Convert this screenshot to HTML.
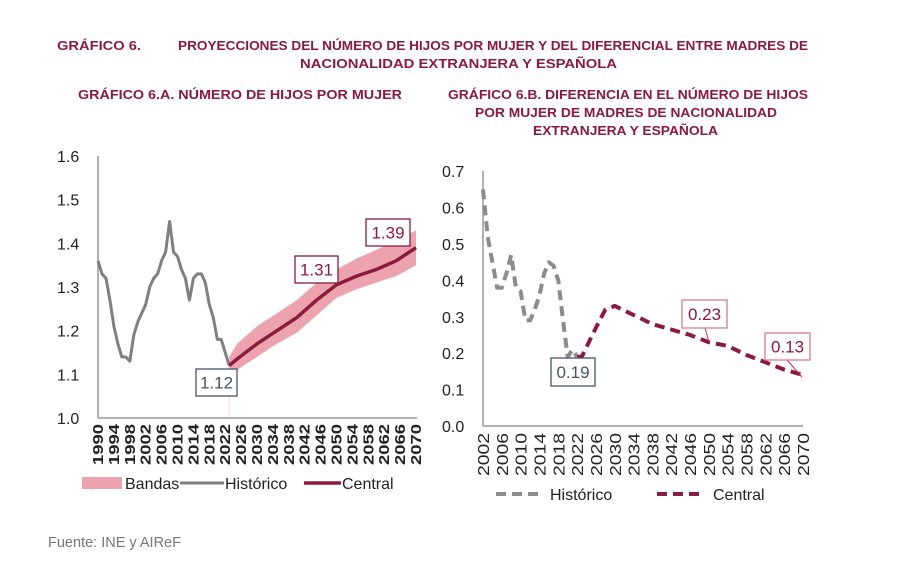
<!DOCTYPE html>
<html><head><meta charset="utf-8"><style>
html,body{margin:0;padding:0;background:#fff;}
svg{display:block;font-family:"Liberation Sans Narrow","Liberation Sans",sans-serif;}
</style></head><body>
<svg id="c" width="916" height="569" viewBox="0 0 916 569" xmlns="http://www.w3.org/2000/svg">
<g fill="#8b1a3f" font-weight="bold" font-size="12.5">
<text x="57" y="50" textLength="84" lengthAdjust="spacingAndGlyphs">GRÁFICO 6.</text>
<text x="178" y="50" textLength="630" lengthAdjust="spacingAndGlyphs">PROYECCIONES DEL NÚMERO DE HIJOS POR MUJER Y DEL DIFERENCIAL ENTRE MADRES DE</text>
<text x="300" y="68" textLength="317" lengthAdjust="spacingAndGlyphs">NACIONALIDAD EXTRANJERA Y ESPAÑOLA</text>
<text x="78" y="99" textLength="324" lengthAdjust="spacingAndGlyphs">GRÁFICO 6.A. NÚMERO DE HIJOS POR MUJER</text>
<text x="448" y="99" textLength="360" lengthAdjust="spacingAndGlyphs">GRÁFICO 6.B. DIFERENCIA EN EL NÚMERO DE HIJOS</text>
<text x="475" y="117" textLength="302" lengthAdjust="spacingAndGlyphs">POR MUJER DE MADRES DE NACIONALIDAD</text>
<text x="533" y="135" textLength="185" lengthAdjust="spacingAndGlyphs">EXTRANJERA Y ESPAÑOLA</text>
</g>
<text x="48" y="547" font-size="14.5" fill="#777" font-family="Liberation Sans, sans-serif">Fuente: INE y AIReF</text>
<g id="A"></g><g id="B"></g>
</svg>
<script>
// ---- Chart A data ----
const histYearsA=[1990,1991,1992,1993,1994,1995,1996,1997,1998,1999,2000,2001,2002,2003,2004,2005,2006,2007,2008,2009,2010,2011,2012,2013,2014,2015,2016,2017,2018,2019,2020,2021,2022,2023];
const histValsA=[1.36,1.33,1.32,1.27,1.21,1.17,1.14,1.14,1.13,1.19,1.22,1.24,1.26,1.30,1.32,1.33,1.36,1.38,1.45,1.38,1.37,1.34,1.32,1.27,1.32,1.33,1.33,1.31,1.26,1.23,1.18,1.18,1.15,1.12];
const projYearsA=[2023,2025,2030,2035,2040,2045,2050,2055,2060,2065,2070];
const centralA=[1.12,1.135,1.17,1.20,1.23,1.27,1.305,1.325,1.34,1.36,1.39];
const upperA=[1.14,1.17,1.21,1.24,1.27,1.31,1.34,1.365,1.385,1.405,1.43];
const lowerA=[1.10,1.11,1.14,1.17,1.195,1.235,1.275,1.295,1.31,1.325,1.35];
const yTicksA=[1.0,1.1,1.2,1.3,1.4,1.5,1.6];
const yTickLabelsA=["1.0","1.1","1.2","1.3","1.4","1.5","1.6"];
// ---- Chart B data ----
const histYearsB=[2002,2003,2004,2005,2006,2007,2008,2009,2010,2011,2012,2013,2014,2015,2016,2017,2018,2019,2020,2021,2022];
const histValsB=[0.65,0.52,0.45,0.38,0.38,0.42,0.47,0.38,0.37,0.29,0.29,0.32,0.36,0.42,0.45,0.44,0.40,0.29,0.19,0.21,0.19];
const projYearsB=[2022,2023,2026,2028,2030,2034,2038,2042,2046,2050,2054,2058,2062,2066,2070];
const centralB=[0.19,0.19,0.27,0.32,0.33,0.305,0.28,0.265,0.25,0.23,0.22,0.195,0.175,0.155,0.14];
const yTicksB=[0,0.1,0.2,0.3,0.4,0.5,0.6,0.7];
const yTickLabelsB=["0.0","0.1","0.2","0.3","0.4","0.5","0.6","0.7"];

const NS="http://www.w3.org/2000/svg";
function mk(parent,tag,attrs,text){const e=document.createElementNS(NS,tag);for(const k in attrs)e.setAttribute(k,attrs[k]);if(text!==undefined)e.textContent=text;parent.appendChild(e);return e;}
function pts(xs,ys,fx,fy){return xs.map((x,i)=>fx(x).toFixed(1)+","+fy(ys[i]).toFixed(1)).join(" ");}

// ===== Chart A =====
const A=document.getElementById('A');
const xA=y=>98+(y-1990)*(318/80);
const yA=v=>418-(v-1.0)*436.7;
let e;
e=mk(A,'polygon',{points:pts(projYearsA,upperA,xA,yA)+" "+pts(projYearsA.slice().reverse(),lowerA.slice().reverse(),xA,yA),fill:'#eca3ae'});

e=mk(A,'line',{x1:xA(2023),y1:yA(1.0),x2:xA(2023),y2:yA(1.1),stroke:'#f6dde1','stroke-width':1});

e=mk(A,'line',{x1:98,y1:156,x2:98,y2:418,stroke:'#999','stroke-width':1.5});

e=mk(A,'line',{x1:98,y1:418,x2:417,y2:418,stroke:'#999','stroke-width':1.5});

yTicksA.forEach((v,i)=>{e=mk(A,'text',{x:57,y:yA(v)+6,'font-size':16,fill:'#222','font-family':'Liberation Sans, sans-serif'},yTickLabelsA[i]);
});
for(let yr=1990;yr<=2070;yr+=4){const x=xA(yr);
e=mk(A,'text',{transform:`translate(${x+5},424) rotate(-90)`,'text-anchor':'end','font-size':15,'font-weight':'bold',fill:'#222','font-family':'Liberation Sans, sans-serif',textLength:41,lengthAdjust:'spacingAndGlyphs'},String(yr));
}
e=mk(A,'polyline',{points:pts(histYearsA,histValsA,xA,yA),fill:'none',stroke:'#808080','stroke-width':3,'stroke-linejoin':'round'});

e=mk(A,'polyline',{points:pts(projYearsA,centralA,xA,yA),fill:'none',stroke:'#8b1a3f','stroke-width':3.5,'stroke-linejoin':'round'});

function box(g,x,y,w,h,t,col,tc,name){const gg=mk(g,'g',{});
mk(gg,'rect',{x:x,y:y,width:w,height:h,fill:'#fff',stroke:col,'stroke-width':1.3});
mk(gg,'text',{x:x+w/2,y:y+h/2+6,'text-anchor':'middle','font-size':17,fill:tc,'font-family':'Liberation Sans, sans-serif'},t);}
box(A,196,369,41,27,'1.12','#44546a','#44546a','label-1-12');
box(A,295,256,43,27,'1.31','#8b1a3f','#8b1a3f','label-1-31');
box(A,366,219,44,27,'1.39','#8b1a3f','#8b1a3f','label-1-39');
// legend A
e=mk(A,'rect',{x:82,y:477,width:40,height:12,fill:'#eca3ae'});
e=mk(A,'text',{x:125,y:489,'font-size':16,fill:'#222','font-family':'Liberation Sans, sans-serif'},'Bandas');
e=mk(A,'line',{x1:180,y1:483,x2:224,y2:483,stroke:'#808080','stroke-width':3});
e=mk(A,'text',{x:225,y:489,'font-size':16,fill:'#222','font-family':'Liberation Sans, sans-serif'},'Histórico');
e=mk(A,'line',{x1:304,y1:483,x2:341,y2:483,stroke:'#8b1a3f','stroke-width':3.5});
e=mk(A,'text',{x:342,y:489,'font-size':16,fill:'#222','font-family':'Liberation Sans, sans-serif'},'Central');

// ===== Chart B =====
const B=document.getElementById('B');
const xB=y=>483+(y-2002)*(320/68);
const yB=v=>426-v*364;
e=mk(B,'line',{x1:483,y1:171,x2:483,y2:426,stroke:'#999','stroke-width':1.5});
e=mk(B,'line',{x1:483,y1:426,x2:803,y2:426,stroke:'#999','stroke-width':1.5});
yTicksB.forEach((v,i)=>{e=mk(B,'text',{x:442,y:yB(v)+6,'font-size':16,fill:'#222','font-family':'Liberation Sans, sans-serif'},yTickLabelsB[i]);
});
for(let yr=2002;yr<=2070;yr+=4){const x=xB(yr);
e=mk(B,'text',{transform:`translate(${x+6},433) rotate(-90)`,'text-anchor':'end','font-size':16,fill:'#222','font-family':'Liberation Sans, sans-serif',textLength:43,lengthAdjust:'spacingAndGlyphs'},String(yr));
}
e=mk(B,'polyline',{points:pts(histYearsB,histValsB,xB,yB),fill:'none',stroke:'#8c8c8c','stroke-width':4,'stroke-dasharray':'10 6','stroke-linejoin':'round'});

e=mk(B,'polyline',{points:pts(projYearsB,centralB,xB,yB),fill:'none',stroke:'#8b1a3f','stroke-width':4,'stroke-dasharray':'10 6','stroke-linejoin':'round'});

e=mk(B,'line',{x1:705,y1:328,x2:709,y2:342,stroke:'#c03050','stroke-width':1});
e=mk(B,'line',{x1:787,y1:360,x2:802,y2:377,stroke:'#c03050','stroke-width':1});
box(B,551,358,44,28,'0.19','#44546a','#44546a','label-0-19');
box(B,682,300,45,28,'0.23','#e07a8c','#8b1a3f','label-0-23');
box(B,765,333,45,27,'0.13','#e07a8c','#8b1a3f','label-0-13');
e=mk(B,'line',{x1:496,y1:494,x2:538,y2:494,stroke:'#8c8c8c','stroke-width':4,'stroke-dasharray':'10 6'});
e=mk(B,'text',{x:550,y:500,'font-size':16,fill:'#222','font-family':'Liberation Sans, sans-serif'},'Histórico');
e=mk(B,'line',{x1:657,y1:494,x2:700,y2:494,stroke:'#8b1a3f','stroke-width':4,'stroke-dasharray':'10 6'});
e=mk(B,'text',{x:713,y:500,'font-size':16,fill:'#222','font-family':'Liberation Sans, sans-serif'},'Central');
</script>
</body></html>
